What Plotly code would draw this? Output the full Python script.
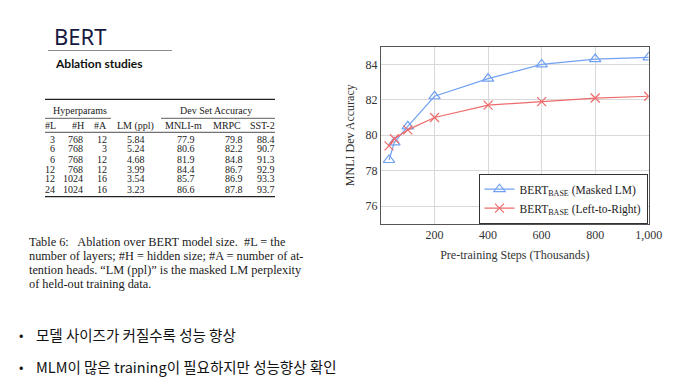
import plotly.graph_objects as go

# ---------------- data ----------------
steps = [30, 50, 100, 200, 400, 600, 800, 1000]
masked_lm = [78.6, 79.6, 80.5, 82.2, 83.2, 84.0, 84.3, 84.4]
left_to_right = [79.4, 79.8, 80.3, 81.0, 81.7, 81.9, 82.1, 82.2]
x_ticks = [200, 400, 600, 800, 1000]
y_ticks = [76, 78, 80, 82, 84]

col_L = [3, 6, 6, 12, 12, 24]
col_H = [768, 768, 768, 768, 1024, 1024]
col_A = [12, 3, 12, 12, 16, 16]
col_LM = ["5.84", "5.24", "4.68", "3.99", "3.54", "3.23"]
col_MNLI = ["77.9", "80.6", "81.9", "84.4", "85.7", "86.6"]
col_MRPC = ["79.8", "82.2", "84.8", "86.7", "86.9", "87.8"]
col_SST2 = ["88.4", "90.7", "91.3", "92.9", "93.3", "93.7"]
col_headers = ["#L", "#H", "#A", "LM (ppl)", "MNLI-m", "MRPC", "SST-2"]
group_headers = ["Hyperparams", "Dev Set Accuracy"]

caption_lines = [
    "Table 6:&nbsp;&nbsp; Ablation over BERT model size.&nbsp; #L = the",
    "number of layers; #H = hidden size; #A = number of at-",
    "tention heads. \u201cLM (ppl)\u201d is the masked LM perplexity",
    "of held-out training data.",
]
bullets = ["모델 사이즈가 커질수록 성능 향상",
           "MLM이 많은 training이 필요하지만 성능향상 확인"]

W, H = 675, 384
def px(x):
    return x / W
def py(y):
    return 1 - y / H

SERIF = "Liberation Serif, Times New Roman, serif"
BLUE = "#72a2f2"
RED = "#ee6b6b"

fig = go.Figure()
fig.add_trace(go.Scatter(
    x=steps, y=masked_lm, mode="lines+markers",
    name="BERT<sub>BASE</sub> (Masked LM)",
    line=dict(color=BLUE, width=1.2),
    marker=dict(symbol="triangle-up-open", size=10, color=BLUE, line=dict(width=1.2)),
))
fig.add_trace(go.Scatter(
    x=steps, y=left_to_right, mode="lines+markers",
    name="BERT<sub>BASE</sub> (Left-to-Right)",
    line=dict(color=RED, width=1.2),
    marker=dict(symbol="x-thin-open", size=9, color=RED, line=dict(width=1.2, color=RED)),
))

ann = []
shapes = []

def text(x, y, t, font, xanchor="left", pad=1):
    ann.append(dict(x=px(x), y=py(y), xref="paper", yref="paper", text=t, showarrow=False,
                    xanchor=xanchor, yanchor="middle", font=font, borderpad=pad))

def hline(x0, x1, y, color, width):
    shapes.append(dict(type="line", xref="paper", yref="paper", x0=px(x0), x1=px(x1), y0=py(y), y1=py(y),
                       line=dict(color=color, width=width)))

# ---- title block ----
text(52, 36, "BERT", dict(family="Noto Sans", size=22, color="#16193f"))
hline(48, 172, 50.5, "#8c8c8c", 1.2)
text(53, 64, "<b>Ablation studies</b>", dict(family="Lato", size=12, color="#111111"))

# ---- table ----
tfont = dict(family=SERIF, size=10, color="#1a1a1a")
for y0, wdt in [(99.3, 1.3), (132.3, 0.8), (196.7, 1.3)]:
    hline(45, 275, y0, "#222222", wdt)
for xa, xb in [(45, 111), (161, 275)]:
    hline(xa, xb, 118.3, "#333333", 0.8)
for t, cx in zip(group_headers, [80, 216]):
    text(cx, 110.7, t, tfont, "center", 0)
head_cx = [50, 78, 100, 135, 183, 227, 262]
for t, cx in zip(col_headers, head_cx):
    text(cx, 125.7, t, tfont, "center", 0)
cols = [col_L, col_H, col_A, col_LM, col_MNLI, col_MRPC, col_SST2]
right_edges = [56.5, 84, 107.5, 145.5, 196, 243.5, 275.5]
for col, rx in zip(cols, right_edges):
    for i, v in enumerate(col):
        text(rx, 139 + 10 * i, str(v), tfont, "right", 0)

# ---- caption ----
for i, line in enumerate(caption_lines):
    text(28, 241.7 + 14 * i, line, dict(family=SERIF, size=12.3, color="#1a1a1a"), "left", 0)

# ---- bullets ----
for i, b in enumerate(bullets):
    yy = 334 + 32 * i
    text(17, yy, "•", dict(family="Noto Sans CJK KR", size=13, color="#111111"))
    text(34, yy, b, dict(family="Noto Sans CJK KR", size=14.5, color="#111111"))

AX_FONT = dict(family=SERIF, size=12, color="#333333")
fig.update_layout(
    width=W, height=H, margin=dict(l=0, r=0, t=0, b=0, autoexpand=False),
    paper_bgcolor="white", plot_bgcolor="white",
    annotations=ann, shapes=shapes,
    showlegend=True,
    legend=dict(xref="paper", yref="paper", x=px(647.5), y=py(223.7), xanchor="right", yanchor="bottom",
                bgcolor="white", bordercolor="#333333", borderwidth=1,
                font=dict(family=SERIF, size=11.5, color="#222222"), tracegroupgap=0),
    xaxis=dict(domain=[px(381), px(648.7)], range=[0, 1000], tickvals=x_ticks, tickformat=",d",
               automargin=False,
               showgrid=True, gridcolor="#d9d9d9", gridwidth=1, zeroline=False,
               showline=True, linecolor="#555555", linewidth=1, mirror=True, ticks="",
               tickfont=AX_FONT,
               title=dict(text="Pre-training Steps (Thousands)", standoff=9, font=AX_FONT)),
    yaxis=dict(domain=[py(223.7), py(46.7)], range=[75, 85], tickvals=y_ticks,
               automargin=False,
               showgrid=True, gridcolor="#d9d9d9", gridwidth=1, zeroline=False,
               showline=True, linecolor="#555555", linewidth=1, mirror=True, ticks="",
               tickfont=AX_FONT,
               title=dict(text="MNLI Dev Accuracy", standoff=8, font=AX_FONT)),
)

fig.write_html("out.html", config={"displayModeBar": False},
               post_script="document.body.style.margin='0';document.body.style.overflow='hidden';")
